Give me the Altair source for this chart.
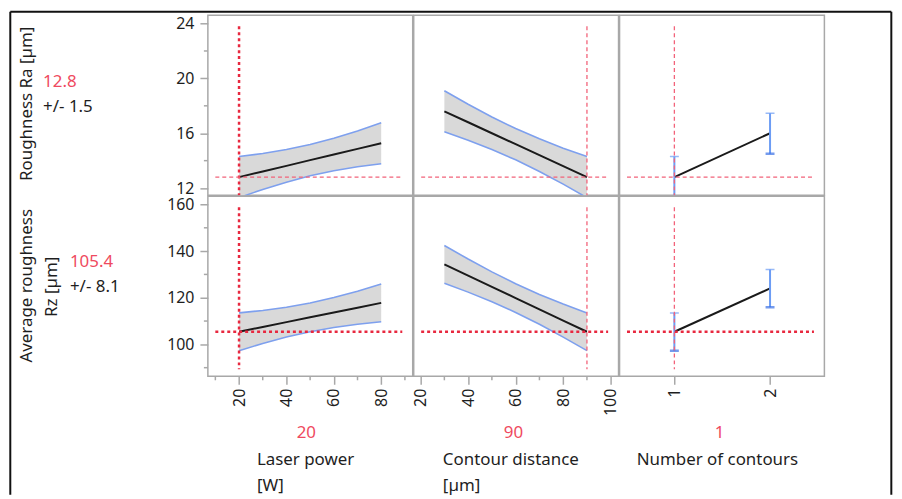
import altair as alt
import pandas as pd

# ---------------- data ----------------
laser_power = [20, 30, 40, 50, 60, 70, 80]
contour_distance = [30, 40, 50, 60, 70, 80, 90]
num_contours = [1, 2]

# Roughness Ra
ra_lp_mean = [12.8, 13.21, 13.62, 14.04, 14.45, 14.86, 15.27]
ra_lp_upper = [14.3, 14.52, 14.81, 15.18, 15.64, 16.17, 16.77]
ra_lp_lower = [11.3, 11.9, 12.43, 12.9, 13.26, 13.55, 13.77]

ra_cd_mean = [17.6, 16.8, 16.0, 15.2, 14.4, 13.6, 12.8]
ra_cd_upper = [19.1, 18.11, 17.19, 16.34, 15.59, 14.91, 14.3]
ra_cd_lower = [16.1, 15.49, 14.81, 14.06, 13.21, 12.29, 11.3]

ra_nc_mean = [12.8, 16.0]
ra_nc_upper = [14.3, 17.45]
ra_nc_lower = [11.3, 14.5]

# Average roughness Rz
rz_lp_mean = [105.4, 107.47, 109.53, 111.6, 113.67, 115.73, 117.8]
rz_lp_upper = [113.5, 114.56, 115.93, 117.76, 120.07, 122.82, 125.9]
rz_lp_lower = [97.3, 100.38, 103.13, 105.44, 107.27, 108.64, 109.7]

rz_cd_mean = [134.3, 129.5, 124.7, 119.85, 115.0, 110.2, 105.4]
rz_cd_upper = [142.4, 136.59, 131.1, 126.01, 121.4, 117.29, 113.5]
rz_cd_lower = [126.2, 122.41, 118.3, 113.69, 108.6, 103.11, 97.3]

rz_nc_mean = [105.4, 124.0]
rz_nc_upper = [113.5, 132.1]
rz_nc_lower = [97.3, 115.9]

# current settings / predictions
current_x = {"lp": 20, "cd": 90, "nc": 1}
current_ra, current_ra_ci = "12.8", "+/- 1.5"
current_rz, current_rz_ci = "105.4", "+/- 8.1"

# axis ticks
ra_ticks, ra_minor = [12, 16, 20, 24], [14, 18, 22]
rz_ticks, rz_minor = [100, 120, 140, 160], [90, 110, 130, 150]
lp_ticks, lp_minor = [20, 40, 60, 80], [10, 30, 50, 70, 90]
cd_ticks, cd_minor = [20, 40, 60, 80, 100], [30, 50, 70, 90]
nc_ticks = [1, 2]

# ---------------- styles ----------------
FONT = "Noto Sans"
GRAY = "#a8a8a8"
TXT = "#1e1e1e"
RED_TXT = "#ef4a60"
BAND = "#d9d9d9"
BLUE = "#7ea0ee"
EBLUE = "#6c9cf4"
EBLUE_D = "#3a70e6"
W, H = 206, 181

THICK = dict(color="#e8283f", strokeWidth=2.5, strokeDash=[3, 3])
THIN = dict(color="#f2637a", strokeWidth=1.3, strokeDash=[4, 3])


def txt(t, x, y, color=TXT, align="left", angle=0, size=17):
    return alt.Chart(pd.DataFrame({"a": [0]})).mark_text(
        text=t, font=FONT, fontSize=size, color=color, align=align,
        baseline="middle", angle=angle
    ).encode(x=alt.value(x), y=alt.value(y))


def panel(xv, mean, lo, hi, xdom, ydom, xref, yref, curve=True,
          xticks=None, xminor=None, yticks=None, yminor=None,
          vthick=False, hthick=False, vy2=H, extra=()):
    xs = alt.Scale(domain=xdom, nice=False, zero=False)
    ys = alt.Scale(domain=ydom, nice=False, zero=False)
    common = dict(title=None, domain=False, grid=False, tickSize=8,
                  tickColor=GRAY, tickWidth=1.5, labelFont=FONT,
                  labelFontSize=16, labelColor=TXT, labelFlush=False,
                  labelOverlap=False, format="d")
    xax = alt.Axis(values=xticks, labelAngle=270, labelAlign="right",
                   labelBaseline="middle", labelPadding=4, **common) if xticks else None
    yax = alt.Axis(values=yticks, labelPadding=6, **common) if yticks else None

    def X(f):
        return alt.X(f, type="quantitative", scale=xs, axis=xax)

    def Y(f):
        return alt.Y(f, type="quantitative", scale=ys, axis=yax)

    df = pd.DataFrame({"x": xv, "m": mean, "lo": lo, "hi": hi})
    base = alt.Chart(df)
    layers = []
    if curve:
        layers += [
            base.mark_area(color=BAND, opacity=1, clip=True).encode(x=X("x"), y=Y("lo"), y2="hi"),
            base.mark_line(color=BLUE, strokeWidth=1.6, clip=True).encode(x=X("x"), y=Y("hi")),
            base.mark_line(color=BLUE, strokeWidth=1.6, clip=True).encode(x=X("x"), y=Y("lo")),
            base.mark_line(color="#1a1a1a", strokeWidth=2, clip=True).encode(x=X("x"), y=Y("m")),
        ]
    else:
        layers += [
            base.mark_line(color="#1a1a1a", strokeWidth=2, clip=True).encode(x=X("x"), y=Y("m")),
            base.mark_rule(color=EBLUE, strokeWidth=2, clip=True).encode(x=X("x"), y=Y("lo"), y2="hi"),
            base.mark_tick(orient="horizontal", color=EBLUE, size=9, thickness=1.5, clip=True).encode(x=X("x"), y=Y("hi")),
            base.mark_tick(orient="horizontal", color=EBLUE_D, size=9, thickness=2.5, clip=True).encode(x=X("x"), y=Y("lo")),
        ]
    vs = THICK if vthick else THIN
    hs = THICK if hthick else THIN
    layers.append(alt.Chart(pd.DataFrame({"x": [xref]})).mark_rule(**vs).encode(
        x=X("x"), y=alt.value(11), y2=alt.value(vy2)))
    layers.append(alt.Chart(pd.DataFrame({"y": [yref]})).mark_rule(**hs).encode(
        y=Y("y"), x=alt.value(7.5), x2=alt.value(195.5)))
    if xminor:
        layers.append(alt.Chart(pd.DataFrame({"x": xminor})).mark_rule(color=GRAY, strokeWidth=1.5).encode(
            x=X("x"), y=alt.value(H), y2=alt.value(H + 4)))
    if yminor:
        layers.append(alt.Chart(pd.DataFrame({"y": yminor})).mark_rule(color=GRAY, strokeWidth=1.5).encode(
            y=Y("y"), x=alt.value(-4), x2=alt.value(0)))
    layers += list(extra)
    return alt.layer(*layers).properties(width=W, height=H)


RA_DOM = [11.47, 24.6]
RZ_DOM = [86.3, 163.5]
LP_DOM = [6.84, 93.3]
CD_DOM = [17.1, 103.3]
NC_DOM = [0.427, 2.568]

FX0, FY0, FX1, FY1 = -198.7, -3.5, 687.3, 482
frame = [
    alt.Chart(pd.DataFrame({"a": [0]})).mark_rule(color="#111", strokeWidth=2).encode(
        x=alt.value(FX0), y=alt.value(FY0), y2=alt.value(FY1)),
    alt.Chart(pd.DataFrame({"a": [0]})).mark_rule(color="#111", strokeWidth=2).encode(
        x=alt.value(FX0), x2=alt.value(FX1), y=alt.value(FY0)),
    alt.Chart(pd.DataFrame({"a": [0]})).mark_rule(color="#111", strokeWidth=2).encode(
        x=alt.value(FX1), y=alt.value(FY0), y2=alt.value(FY1)),
]

left_top = [
    txt("Roughness Ra [µm]", -182, 89, align="center", angle=270),
    txt(current_ra, -165.7, 66.7, color=RED_TXT),
    txt(current_ra_ci, -165.7, 92),
]
left_bot = [
    txt("Average roughness", -182, 90, align="center", angle=270),
    txt("Rz [µm]", -157, 91, align="center", angle=270),
    txt(current_rz, -138.7, 65.7, color=RED_TXT),
    txt(current_rz_ci, -138.7, 91.7),
]
bot1 = [txt(str(current_x["lp"]), 99, 238, color=RED_TXT, align="center"),
        txt("Laser power", 49.3, 264.7), txt("[W]", 49.3, 291)]
bot2 = [txt(str(current_x["cd"]), 100.3, 238, color=RED_TXT, align="center"),
        txt("Contour distance", 29.3, 264.7), txt("[µm]", 29.3, 291)]
bot3 = [txt(str(current_x["nc"]), 100.6, 238, color=RED_TXT, align="center"),
        txt("Number of contours", 17.3, 264.7)]

p11 = panel(laser_power, ra_lp_mean, ra_lp_lower, ra_lp_upper, LP_DOM, RA_DOM,
            current_x["lp"], 12.8, yticks=ra_ticks, yminor=ra_minor,
            vthick=True, extra=frame + left_top)
p12 = panel(contour_distance, ra_cd_mean, ra_cd_lower, ra_cd_upper, CD_DOM, RA_DOM,
            current_x["cd"], 12.8)
p13 = panel(num_contours, ra_nc_mean, ra_nc_lower, ra_nc_upper, NC_DOM, RA_DOM,
            current_x["nc"], 12.8, curve=False)
p21 = panel(laser_power, rz_lp_mean, rz_lp_lower, rz_lp_upper, LP_DOM, RZ_DOM,
            current_x["lp"], 105.4, xticks=lp_ticks, xminor=lp_minor,
            yticks=rz_ticks, yminor=rz_minor, vthick=True, hthick=True,
            vy2=174, extra=left_bot + bot1)
p22 = panel(contour_distance, rz_cd_mean, rz_cd_lower, rz_cd_upper, CD_DOM, RZ_DOM,
            current_x["cd"], 105.4, xticks=cd_ticks, xminor=cd_minor,
            hthick=True, vy2=174, extra=bot2)
p23 = panel(num_contours, rz_nc_mean, rz_nc_lower, rz_nc_upper, NC_DOM, RZ_DOM,
            current_x["nc"], 105.4, curve=False, xticks=nc_ticks,
            hthick=True, vy2=174, extra=bot3)

chart = alt.concat(p11, p12, p13, p21, p22, p23, columns=3, spacing=1,
                   bounds="flush").properties(padding=0).configure_view(
    stroke=GRAY, strokeWidth=1.5)

chart.save("out.html", embed_options={"renderer": "svg", "actions": False})
